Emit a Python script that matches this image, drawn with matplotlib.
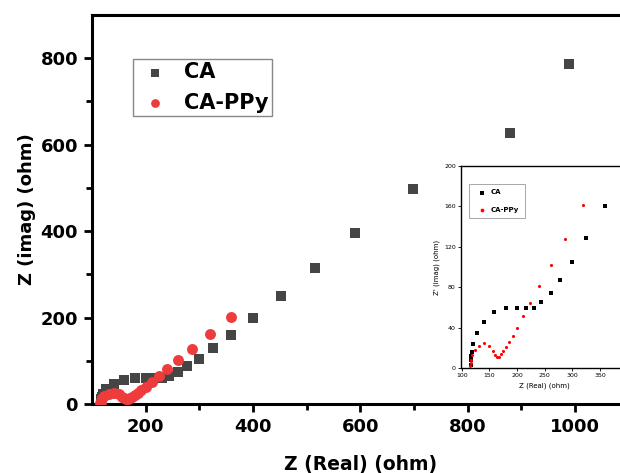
import numpy as np
import matplotlib
matplotlib.use("Agg")
import matplotlib.pyplot as plt

# data (ohm)
ca_real = [116, 116, 116, 118, 121, 127, 141, 159, 180, 200, 216, 231, 244,
           261, 278, 300, 325, 359, 401, 453, 516, 591, 699, 880, 990]
ca_imag = [3, 8, 12, 16, 24, 35, 46, 56, 60, 60, 60, 60, 65,
           74, 87, 105, 129, 160, 199, 250, 314, 395, 497, 627, 786]

ppy_real = [115, 116, 117, 119, 123, 131, 141, 150, 156, 160, 164, 168, 171,
            175, 180, 186, 192, 200, 211, 224, 240, 261, 287, 320, 360]
ppy_imag = [2, 5, 8, 13, 18, 22, 25, 22, 17, 13, 11, 11.5, 14,
            17, 21, 26, 32, 40, 52, 64, 81, 102, 128, 161, 202]

plt.rcParams["font.family"] = ["DejaVu Sans"]

fig = plt.figure(figsize=(6.2, 4.73), dpi=100)
W, H = 620, 473

# main axes (right edge runs past the cropped picture)
ax = fig.add_axes([92 / W, (H - 404) / H, 536.5 / W, 389 / H])
ax.scatter(ca_real, ca_imag, marker="s", s=50, color="#454545", label="CA",
           zorder=3, linewidths=0)
ax.scatter(ppy_real, ppy_imag, marker="o", s=62, color="#ee3b3b",
           label="CA-PPy", zorder=4, linewidths=0)
ax.set_xlim(100, 1100)
ax.set_ylim(0, 900)
ax.set_xticks([200, 400, 600, 800, 1000])
ax.set_xticks([300, 500, 700, 900], minor=True)
ax.set_yticks([0, 200, 400, 600, 800])
ax.set_yticks([100, 300, 500, 700], minor=True)
for s in ax.spines.values():
    s.set_linewidth(2.2)
ax.tick_params(which="major", direction="out", length=6, width=2,
               labelsize=13, pad=4)
ax.tick_params(which="minor", direction="out", length=4, width=2)
for lab in ax.get_xticklabels() + ax.get_yticklabels():
    lab.set_fontweight("bold")
ax.set_xlabel("Z (Real) (ohm)", fontsize=13.5, fontweight="bold", labelpad=14)
ax.set_ylabel("Z (imag) (ohm)", fontsize=13, fontweight="bold", labelpad=3)
leg = ax.legend(loc="upper left", bbox_to_anchor=(41 / 536.5, 1 - 44 / 389),
                borderaxespad=0, fancybox=False, edgecolor="#888888",
                framealpha=1, prop={"weight": "bold", "size": 15},
                handletextpad=0.5, handlelength=1.8, borderpad=0.15,
                labelspacing=0.5, markerscale=0.8)
leg.get_frame().set_linewidth(1)

# inset
ins = fig.add_axes([460.7 / W, (H - 368.3) / H, 167 / W, 202.6 / H])
ins.scatter(ca_real, ca_imag, marker="s", s=5, color="black", label="CA",
            zorder=3, linewidths=0)
ins.scatter(ppy_real, ppy_imag, marker="o", s=5, color="red",
            label="CA-PPy", zorder=4, linewidths=0)
ins.set_xlim(98, 400)
ins.set_ylim(0, 200)
ins.set_xticks([100, 150, 200, 250, 300, 350])
ins.set_yticks([0, 40, 80, 120, 160, 200])
for s in ins.spines.values():
    s.set_linewidth(1)
ins.tick_params(direction="out", length=2, width=0.6, labelsize=4.5, pad=1.5)
ins.set_xlabel("Z (Real) (ohm)", fontsize=5, labelpad=3)
ins.set_ylabel("Z' (imag) (ohm)", fontsize=5, labelpad=3)
il = ins.legend(loc="upper left", bbox_to_anchor=(0.05, 0.91),
                borderaxespad=0, fancybox=False, edgecolor="#999999",
                framealpha=1, prop={"weight": "bold", "size": 5},
                handletextpad=0.3, borderpad=0.8, labelspacing=1.6,
                markerscale=1.2)
il.get_frame().set_linewidth(0.6)

fig.savefig("out.png", dpi=100)
